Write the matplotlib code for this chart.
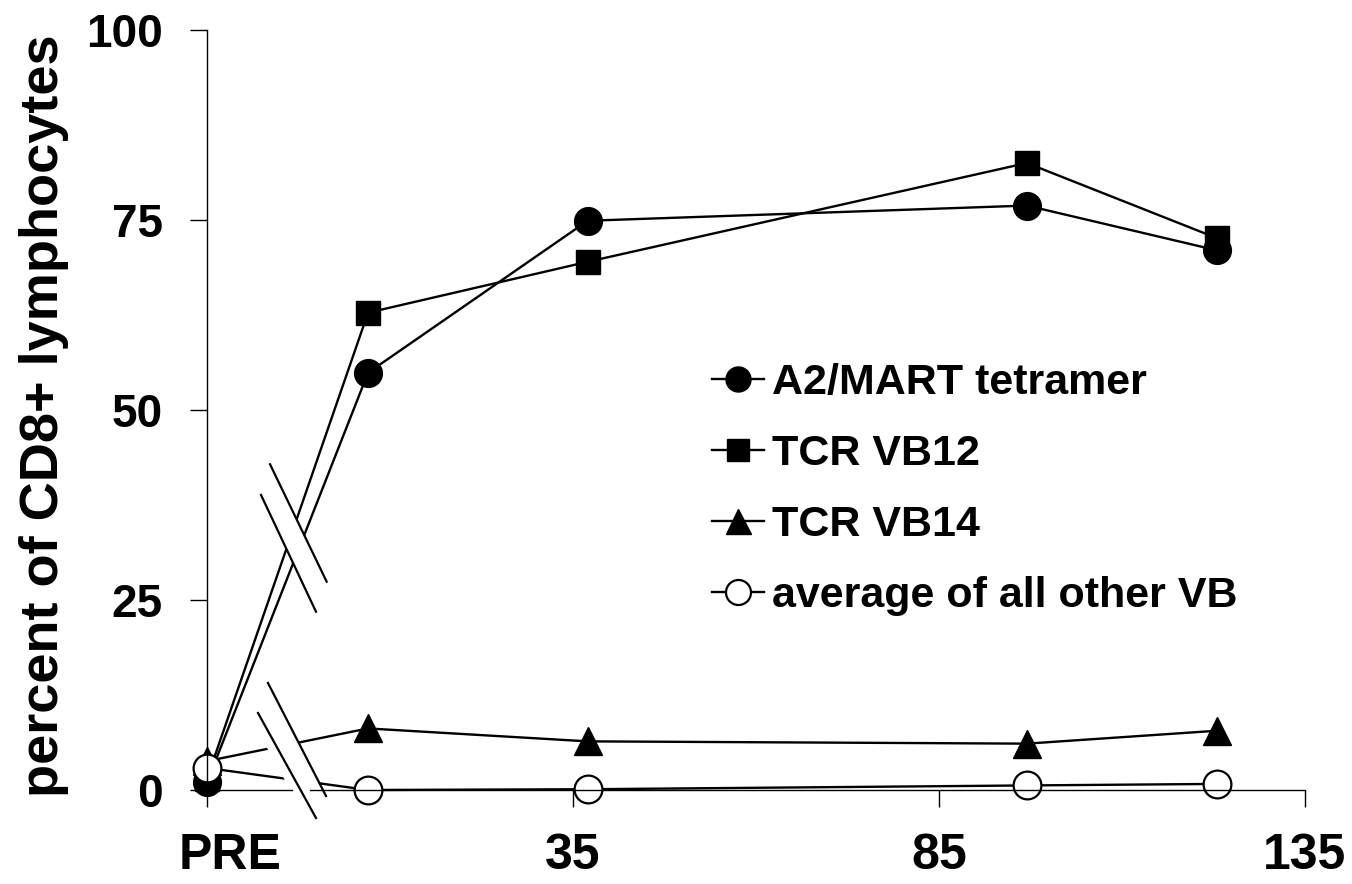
"""
Percent of CD8+ lymphocytes over time: tetramer and TCR VB staining
"""

import numpy as np
import matplotlib
matplotlib.use("Agg")
import matplotlib.pyplot as plt
from matplotlib.patches import Polygon
from matplotlib.transforms import ScaledTranslation

plt.rcParams['font.family'] = ['Liberation Sans', 'DejaVu Sans']
plt.rcParams['font.weight'] = 'bold'

# Data (PRE drawn at day -15)
days = [-15, 7, 37, 97, 123]
a2_mart = [1.0, 54.9, 74.9, 76.9, 71.0]
vb12 = [1.5, 62.8, 69.5, 82.5, 72.6]
vb14 = [3.8, 8.1, 6.4, 6.1, 7.8]
other_vb = [2.9, 0.0, 0.1, 0.6, 0.8]

x_ticks = [-15, 35, 85, 135]
x_tick_labels = ['PRE', '35', '85', '135']
y_ticks = [0, 25, 50, 75, 100]

series_labels = ['A2/MART tetramer', 'TCR VB12', 'TCR VB14', 'average of all other VB']

# Axis break marks (pairs of slashes), in data units
lower_break = [((-8.03, 10.13), (-0.11, -3.68)), ((-6.67, 14.08), (1.26, -0.79))]
upper_break = [((-7.62, 38.82), (-0.11, 23.46)), ((-6.39, 42.86), (1.35, 27.41))]

fig = plt.figure(figsize=(13.52, 8.84), dpi=100)
ax = fig.add_axes([207 / 1352, 94 / 884, 1098 / 1352, 760 / 884])

# Plot the series
ax.plot(days, a2_mart, '-o', color='black', lw=1.7, ms=20, clip_on=False, label=series_labels[0])
ax.plot(days, vb12, '-s', color='black', lw=1.7, ms=17, clip_on=False, label=series_labels[1])
ax.plot(days, vb14, '-^', color='black', lw=1.7, ms=20, clip_on=False, label=series_labels[2])
ax.plot(days, other_vb, '-o', color='black', lw=1.7, ms=20, mfc='white', mec='black', mew=1.6,
        clip_on=False, label=series_labels[3])

# Break marks: white band hides lines, slashes on top
for slashes, shift in [(lower_break, 1.4), (upper_break, 0.0)]:
    (a0, a1), (b0, b1) = slashes
    band = Polygon([(a0[0] - shift, a0[1]), (a1[0] - shift, a1[1]), b1, b0], closed=True,
                   facecolor='white', edgecolor='none', zorder=2.2, clip_on=False)
    ax.add_patch(band)
    for p0, p1 in slashes:
        ax.plot([p0[0], p1[0]], [p0[1], p1[1]], color='black', lw=1.6, zorder=4, clip_on=False)

# Gap in the x axis line at the break
ax.plot([-3.25, -0.93], [0, 0], color='white', lw=4, zorder=2.6, clip_on=False, solid_capstyle='butt')

ax.set_xlim(-15, 135)
ax.set_ylim(0, 100)
ax.set_xticks(x_ticks)
ax.set_xticklabels(x_tick_labels)
ax.set_yticks(y_ticks)

for side in ['top', 'right']:
    ax.spines[side].set_visible(False)
for side in ['left', 'bottom']:
    ax.spines[side].set_linewidth(1.0)

ax.tick_params(axis='both', direction='out', length=12, width=1.0)
ax.tick_params(axis='x', labelsize=36, pad=19)
ax.tick_params(axis='y', labelsize=33, pad=20)

# PRE label sits a bit right of its tick
pre_label = ax.get_xticklabels()[0]
pre_label.set_transform(pre_label.get_transform() + ScaledTranslation(0.23, 0, fig.dpi_scale_trans))

ax.set_ylabel('percent of CD8+ lymphocytes', fontsize=39, fontweight='bold')
ax.yaxis.set_label_coords(-0.126, 0.492)

ax.legend(loc='upper left', bbox_to_anchor=(0.46, 0.562), frameon=False, fontsize=31,
          markerscale=0.9, handlelength=1.2, handletextpad=0.2, labelspacing=0.72,
          borderpad=0, borderaxespad=0)

fig.savefig('out.png', dpi=100)
